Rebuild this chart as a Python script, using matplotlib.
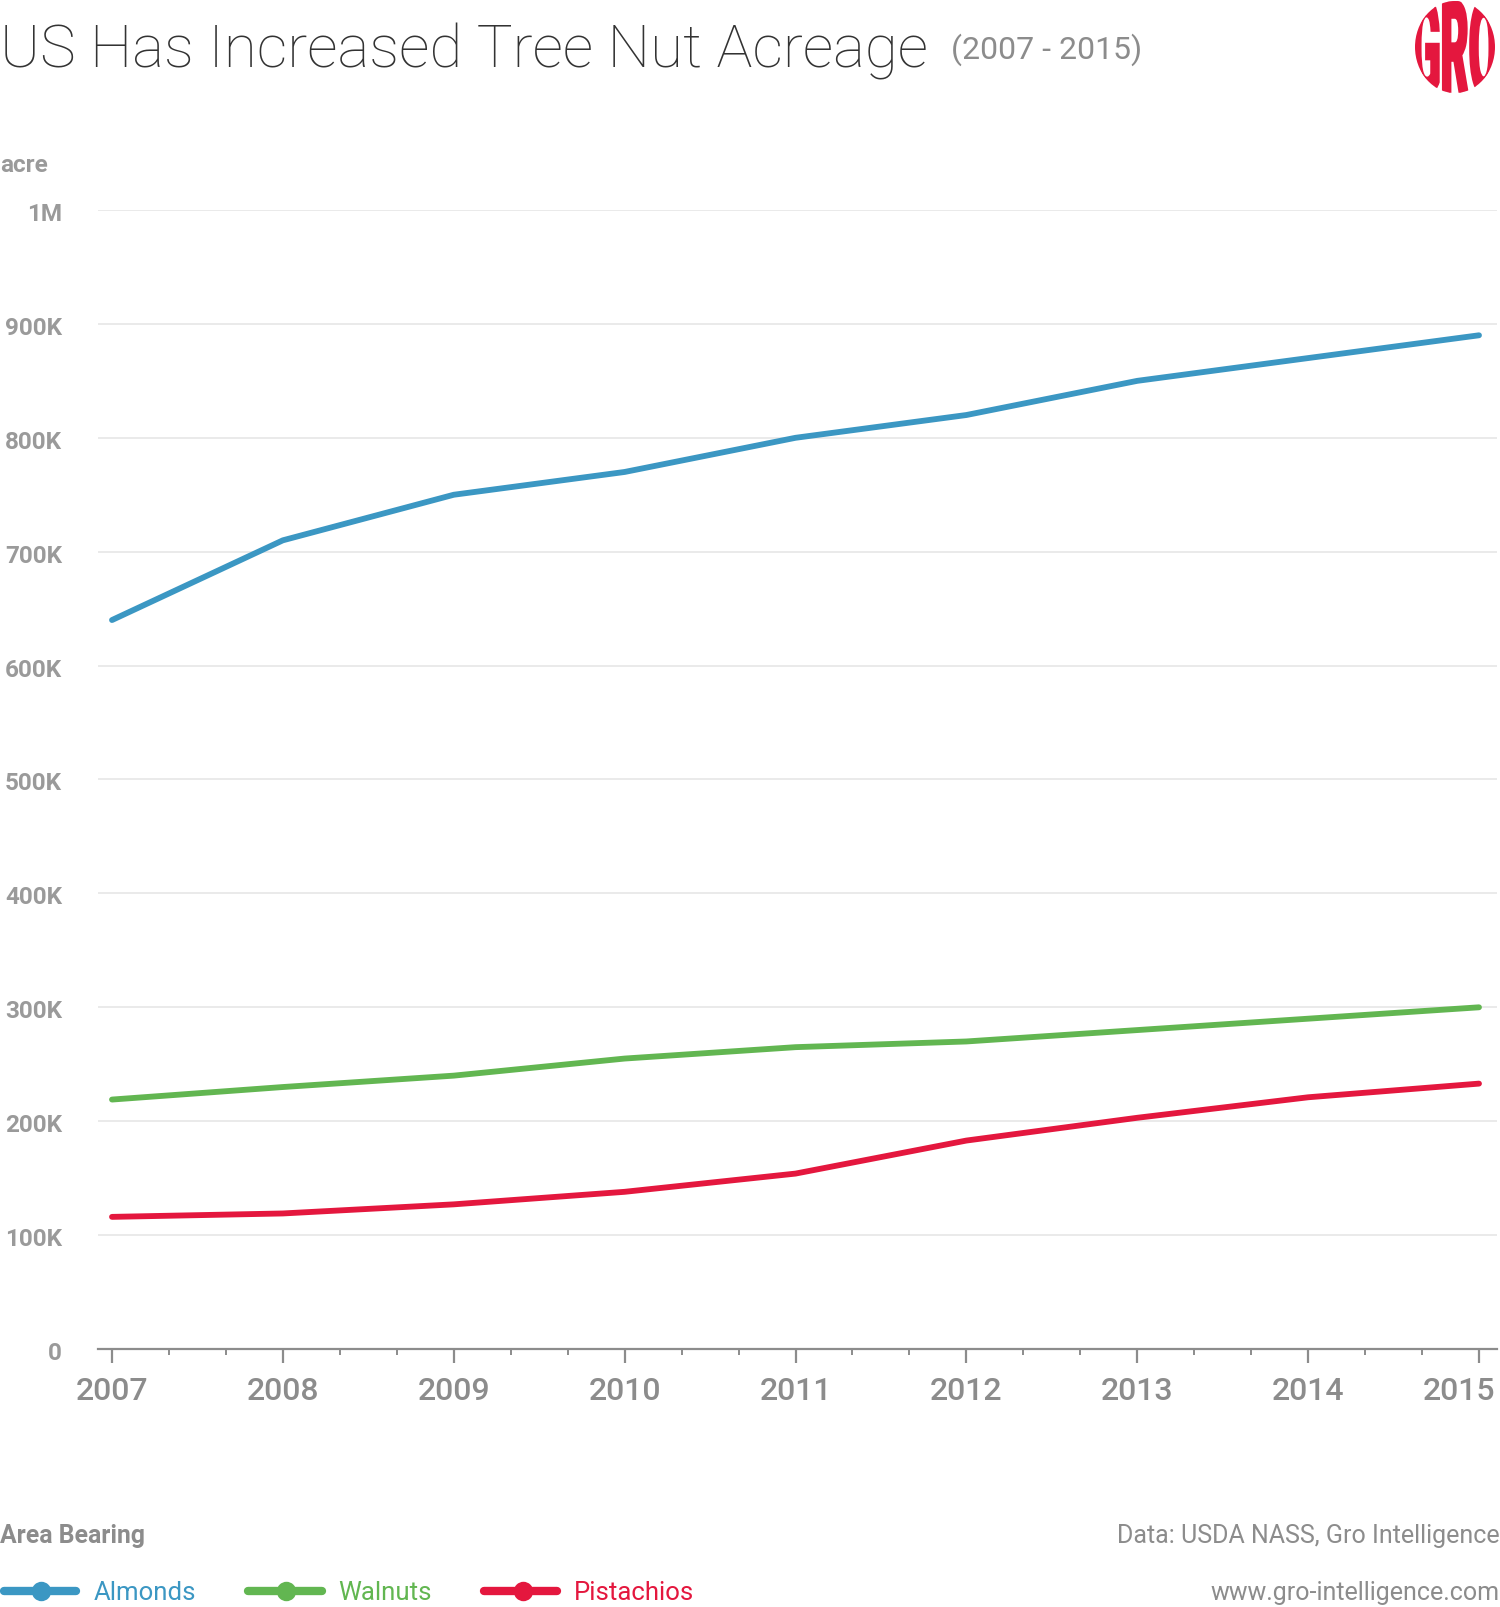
import matplotlib
matplotlib.use("Agg")
import matplotlib.pyplot as plt
from matplotlib.patches import Ellipse, PathPatch
from matplotlib.lines import Line2D
from matplotlib.ticker import FuncFormatter, MultipleLocator
from matplotlib.textpath import TextPath
from matplotlib.font_manager import FontProperties
from matplotlib.transforms import Affine2D, ScaledTranslation

plt.rcParams['font.family'] = ['Roboto', 'DejaVu Sans']

years = [2007, 2008, 2009, 2010, 2011, 2012, 2013, 2014, 2015]
almonds = [640000, 710000, 750000, 770000, 800000, 820000, 850000, 870000, 890000]
walnuts = [219000, 230000, 240000, 255000, 265000, 270000, 280000, 290000, 300000]
pistachios = [116000, 119000, 127000, 138000, 154000, 183000, 203000, 221000, 233000]
series_names = ["Almonds", "Walnuts", "Pistachios"]
colors = ["#3b97c3", "#62b651", "#e4173e"]
y_ticks = [0, 100000, 200000, 300000, 400000, 500000, 600000, 700000, 800000, 900000, 1000000]

W, H = 1500, 1607
fig = plt.figure(figsize=(W / 100, H / 100), dpi=100)

def fx(px):
    return px / W

def fy(py):
    return 1 - py / H

ax_left, ax_right = 98, 1497
ax_top, ax_bottom = 210, 1349
ax = fig.add_axes([fx(ax_left), fy(ax_bottom), fx(ax_right - ax_left), (ax_bottom - ax_top) / H])

per_year = (1479 - 112) / 8.0
ax.set_xlim(2007 - (112 - ax_left) / per_year, 2015 + (ax_right - 1479) / per_year)
ax.set_ylim(0, 1000000)

for vals, c in zip([almonds, walnuts, pistachios], colors):
    ax.plot(years, vals, color=c, lw=4.2, solid_capstyle='round', clip_on=False, zorder=3)

for s in ['top', 'right', 'left']:
    ax.spines[s].set_visible(False)
ax.spines['bottom'].set_color('#8c8c8c')
ax.spines['bottom'].set_linewidth(1.6)

ax.set_yticks(y_ticks)
ax.grid(axis='y', color='#e8e8e8', lw=1.3)
ax.set_axisbelow(True)

def yfmt(v, pos):
    if v == 0:
        return "0"
    if v >= 1000000:
        return "%dM" % (v // 1000000)
    return "%dK" % (v // 1000)

ax.yaxis.set_major_formatter(FuncFormatter(yfmt))
ax.tick_params(axis='y', length=0, pad=26, labelsize=17.5, labelcolor='#9a9a9a')
for lab in ax.get_yticklabels():
    lab.set_fontweight('bold')
    lab.set_transform(lab.get_transform() + ScaledTranslation(0, -2 / 100, fig.dpi_scale_trans))

ax.set_xticks(years)
ax.set_xticklabels([str(y) for y in years])
ax.xaxis.set_minor_locator(MultipleLocator(1 / 3))
ax.tick_params(axis='x', which='major', length=10, width=1.6, color='#8c8c8c',
               labelsize=23, labelcolor='#8c8c8c', pad=10)
ax.tick_params(axis='x', which='minor', length=4, width=1.4, color='#8c8c8c')
xlabs = ax.get_xticklabels()
for lab in xlabs:
    lab.set_fontweight('medium')
xlabs[-1].set_transform(xlabs[-1].get_transform() + ScaledTranslation(-20 / 100, 0, fig.dpi_scale_trans))

# Title
fig.text(0, fy(52), "US Has Increased Tree Nut Acreage", fontsize=43.3, fontweight='light',
         color='#333333', ha='left', va='center')
fig.text(fx(951), fy(50), "(2007 - 2015)", fontsize=23, color='#8c8c8c', ha='left', va='center')

# unit label
fig.text(0, fy(166), "acre", fontsize=17.5, fontweight='bold', color='#9a9a9a', ha='left', va='center')

# Logo: red stretched letters clipped to an ellipse
cx, cy = 1455, 47
clip_ell = Ellipse((cx, H - cy), width=80, height=92, transform=None, facecolor='none', edgecolor='none')
fig.patches.append(clip_ell)
tp = TextPath((0, 0), "GRO", size=100, prop=FontProperties(family='Roboto', weight='black'))
bb = tp.get_extents()
sx = 84 / bb.width
sy = 96 / bb.height
tr = Affine2D().translate(-bb.x0 - bb.width / 2, -bb.y0 - bb.height / 2).scale(sx, sy).translate(cx, H - cy)
logo_path = tr.transform_path(tp)
logo = PathPatch(logo_path, transform=None, facecolor='#e4173e', edgecolor='#e4173e', lw=1.5)
fig.patches.append(logo)
logo.set_clip_path(clip_ell)

# Legend
fig.text(0, fy(1536), "Area Bearing", fontsize=17.8, fontweight='bold', color='#8c8c8c',
         ha='left', va='center')
leg_x = [(0, 80, 41, 94), (244, 326, 286, 338), (480, 561, 523, 574)]
for (x0, x1, xm, xt), name, c in zip(leg_x, series_names, colors):
    fig.lines.append(Line2D([fx(x0 + 4), fx(x1 - 4)], [fy(1591), fy(1591)], transform=fig.transFigure,
                            color=c, lw=6, solid_capstyle='round'))
    fig.lines.append(Line2D([fx(xm)], [fy(1591)], transform=fig.transFigure, color=c,
                            marker='o', markersize=14, markeredgewidth=0))
    fig.text(fx(xt), fy(1593), name, fontsize=18.5, color=c, ha='left', va='center')

# Footer
fig.text(1, fy(1536), "Data: USDA NASS, Gro Intelligence", fontsize=18, color='#8c8c8c',
         ha='right', va='center')
fig.text(1, fy(1593), "www.gro-intelligence.com", fontsize=18, color='#8c8c8c',
         ha='right', va='center')

fig.savefig("out.png", dpi=100)
